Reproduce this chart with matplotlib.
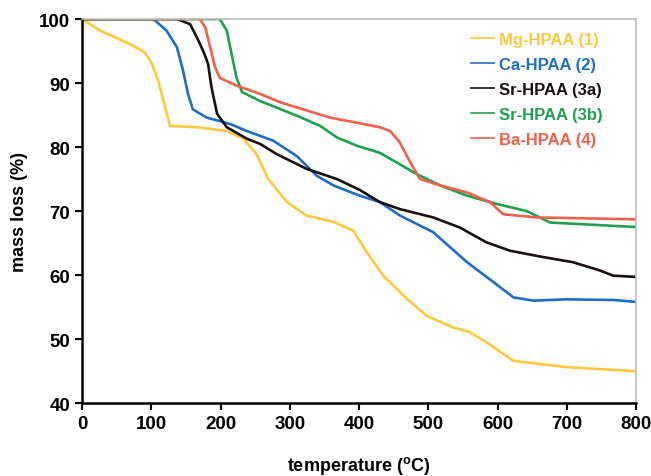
import matplotlib.pyplot as plt

plt.rcParams['font.family'] = ['Liberation Sans', 'DejaVu Sans']
plt.rcParams['font.weight'] = 'bold'
plt.rcParams['mathtext.fontset'] = 'custom'
plt.rcParams['mathtext.rm'] = 'Liberation Sans:bold'
plt.rcParams['mathtext.default'] = 'rm'

# TGA curves: temperature (C) vs mass loss (%)
mg_t = [0, 26, 69, 91, 101, 110, 120, 127, 166, 209, 233, 252, 269, 296, 324, 363, 392,
        411, 435, 469, 498, 536, 560, 584, 623, 700, 796, 800]
mg_m = [100, 98.2, 96.1, 94.8, 93, 90.4, 86.2, 83.3, 83.1, 82.5, 81.3, 78.9, 75, 71.4, 69.3,
        68.3, 66.9, 63.6, 59.9, 56.3, 53.6, 51.8, 51.1, 49.5, 46.6, 45.6, 45.0, 45.0]

ca_t = [0, 103, 122, 137, 146, 153, 160, 180, 214, 238, 276, 310, 339, 363, 401, 430, 459,
        507, 556, 594, 623, 652, 700, 767, 800]
ca_m = [100, 100, 98.2, 95.6, 91.9, 88.3, 85.9, 84.6, 83.6, 82.5, 81, 78.6, 75.5, 74, 72.4,
        71.4, 69.3, 66.7, 62, 58.9, 56.5, 56, 56.2, 56.1, 55.8]

sr3a_t = [0, 137, 156, 166, 175, 182, 187, 195, 209, 238, 257, 281, 324, 368, 401, 430, 459,
          507, 546, 584, 618, 661, 709, 748, 767, 800]
sr3a_m = [100, 100, 99.2, 97.1, 95, 93, 89.3, 85.2, 83.1, 81.3, 80.5, 78.9, 76.6, 75, 73.3,
          71.4, 70.3, 69, 67.4, 65.1, 63.8, 62.9, 62, 60.7, 59.9, 59.7]

sr3b_t = [0, 199, 209, 216, 223, 231, 257, 310, 344, 368, 397, 430, 483, 517, 556, 599, 642,
          676, 800]
sr3b_m = [100, 100, 98.2, 94.5, 90.9, 88.6, 87.2, 84.9, 83.3, 81.5, 80.2, 79.1, 75.8, 74,
          72.4, 71.1, 70, 68.2, 67.5]

ba_t = [0, 170, 178, 185, 192, 199, 223, 257, 286, 358, 430, 445, 459, 474, 488, 517, 556,
        589, 608, 657, 800]
ba_m = [100, 100, 98.7, 95.6, 92.5, 90.8, 89.6, 88.3, 87, 84.6, 83.1, 82.5, 80.7, 77.6, 75,
        74, 72.9, 71.4, 69.5, 69, 68.7]

labels = ['Mg-HPAA (1)', 'Ca-HPAA (2)', 'Sr-HPAA (3a)', 'Sr-HPAA (3b)', 'Ba-HPAA (4)']
colors = ['#FFC83C', '#1F6CC4', '#1A1010', '#1EA04E', '#F0604A']

fig = plt.figure(figsize=(6.51, 4.77), dpi=100)
ax = fig.add_axes([0.126, 0.153, 0.851, 0.805])

series = [(mg_t, mg_m), (ca_t, ca_m), (sr3a_t, sr3a_m), (sr3b_t, sr3b_m), (ba_t, ba_m)]
for (t, m), lab, c in zip(series, labels, colors):
    ax.plot(t, m, color=c, lw=1.9, label=lab, solid_joinstyle='round')

ax.set_xlim(0, 800)
ax.set_ylim(40, 100)
ax.set_xticks(range(0, 801, 100))
ax.set_yticks(range(40, 101, 10))
ax.tick_params(direction='out', length=5, width=1.5, labelsize=13.5, colors='black')
for s in ['left', 'bottom']:
    ax.spines[s].set_linewidth(1.8)
for s in ['top', 'right']:
    ax.spines[s].set_color('#BBBBBB')
    ax.spines[s].set_linewidth(1.2)

ax.set_xlabel('temperature ($^{o}$C)', fontsize=13, fontweight='bold', labelpad=16)
ax.set_ylabel('mass loss (%)', fontsize=13, fontweight='bold', labelpad=8)

leg = ax.legend(loc='upper right', bbox_to_anchor=(0.966, 1.005), frameon=False,
                labelcolor='linecolor', prop={'weight': 'bold', 'size': 12},
                handlelength=1.35, handletextpad=0.3, labelspacing=0.6)
for h in leg.get_lines():
    h.set_linewidth(1.2)

fig.savefig('out.png', dpi=100)
